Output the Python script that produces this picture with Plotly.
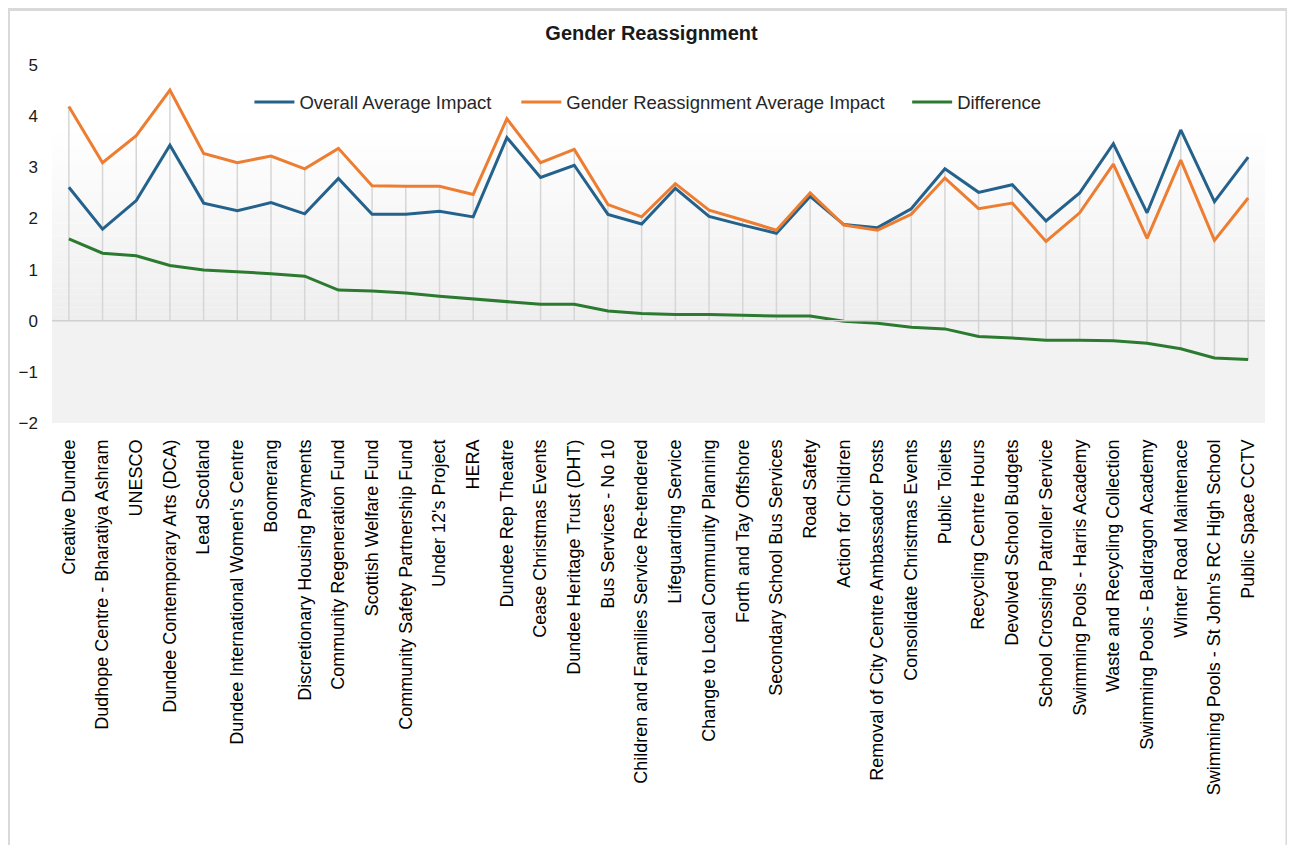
import plotly.graph_objects as go

categories = [
    "Creative Dundee", "Dudhope Centre - Bharatiya Ashram", "UNESCO",
    "Dundee Contemporary Arts (DCA)", "Lead Scotland",
    "Dundee International Women's Centre", "Boomerang",
    "Discretionary Housing Payments", "Community Regeneration Fund",
    "Scottish Welfare Fund", "Community Safety Partnership Fund",
    "Under 12's Project", "HERA", "Dundee Rep Theatre",
    "Cease Christmas Events", "Dundee Heritage Trust (DHT)",
    "Bus Services - No 10", "Children and Families Service Re-tendered",
    "Lifeguarding Service", "Change to Local Community Planning",
    "Forth and Tay Offshore", "Secondary School Bus Services",
    "Road Safety", "Action for Children",
    "Removal of City Centre Ambassador Posts",
    "Consolidate Christmas Events", "Public Toilets",
    "Recycling Centre Hours", "Devolved School Budgets",
    "School Crossing Patroller Service", "Swimming Pools - Harris Academy",
    "Waste and Recycling Collection", "Swimming Pools - Baldragon Academy",
    "Winter Road Maintenace", "Swimming Pools - St John's RC High School",
    "Public Space CCTV",
]

overall_avg = [2.61, 1.79, 2.35, 3.43, 2.30, 2.15, 2.31, 2.09, 2.78, 2.08,
               2.08, 2.14, 2.03, 3.58, 2.80, 3.04, 2.08, 1.89, 2.59, 2.04,
               1.87, 1.71, 2.43, 1.88, 1.82, 2.19, 2.97, 2.51, 2.66, 1.95,
               2.50, 3.46, 2.11, 3.73, 2.33, 3.20]

gender_avg = [4.19, 3.09, 3.62, 4.51, 3.27, 3.09, 3.22, 2.97, 3.37, 2.64,
              2.63, 2.63, 2.47, 3.95, 3.09, 3.35, 2.27, 2.03, 2.68, 2.16,
              1.97, 1.77, 2.50, 1.87, 1.77, 2.08, 2.79, 2.19, 2.30, 1.55,
              2.11, 3.06, 1.61, 3.14, 1.57, 2.40]

difference = [1.60, 1.32, 1.27, 1.08, 0.99, 0.96, 0.92, 0.87, 0.60, 0.58,
              0.54, 0.48, 0.43, 0.37, 0.32, 0.32, 0.19, 0.14, 0.12, 0.12,
              0.10, 0.09, 0.09, -0.01, -0.05, -0.13, -0.16, -0.31, -0.34,
              -0.38, -0.38, -0.39, -0.44, -0.55, -0.73, -0.76]

series_names = ["Overall Average Impact", "Gender Reassignment Average Impact", "Difference"]
series_colors = ["#24628c", "#ED7D31", "#2b7a30"]

y_ticks = [-2, -1, 0, 1, 2, 3, 4, 5]

FONT = "Liberation Sans, Arial, sans-serif"

# page body adds an 8px margin; figure coordinates = screen - 8
W, H = 1287, 837
L, R, T, B = 43.5, 30, 56.6, 422
pw, ph = W - L - R, H - T - B


def px_to_paper_x(px):
    return (px - L) / pw


def px_to_paper_y(py):
    return (H - B - py) / ph


fig = go.Figure()

# background: gradient above zero, flat grey below zero
n_bands = 30
top = 3.8
for i in range(n_bands):
    y0 = top * i / n_bands
    y1 = top * (i + 1) / n_bands
    t = i / (n_bands - 1)
    c = int(round(0xee + (0xff - 0xee) * t))
    fig.add_shape(type="rect", xref="paper", yref="y", x0=0, x1=1, y0=y0, y1=y1,
                  fillcolor=f"rgb({c},{c},{c})", line_width=0, layer="below")
fig.add_shape(type="rect", xref="paper", yref="y", x0=0, x1=1, y0=-2, y1=0,
              fillcolor="#f2f2f2", line_width=0, layer="below")

# drop lines from the extremes of each category to the axis
dx, dy = [], []
for i, cat in enumerate(categories):
    vals = [overall_avg[i], gender_avg[i], difference[i]]
    dx += [cat, cat, None]
    dy += [max(max(vals), 0), min(min(vals), 0), None]
fig.add_trace(go.Scatter(x=dx, y=dy, mode="lines", line=dict(color="#d6d6d6", width=1.5),
                         showlegend=False, hoverinfo="skip"))

# zero line
fig.add_shape(type="line", xref="paper", yref="y", x0=0, x1=1, y0=0, y1=0,
              line=dict(color="#d0d0d0", width=1.5))

legend_ids = ["legend", "legend2", "legend3"]
legend_x = [241, 508, 899]
for name, vals, col, lid in zip(series_names, [overall_avg, gender_avg, difference],
                                series_colors, legend_ids):
    fig.add_trace(go.Scatter(x=categories, y=vals, mode="lines", name=name, legend=lid,
                             line=dict(color=col, width=3)))

# outer frame
fig.add_shape(type="rect", xref="paper", yref="paper",
              x0=px_to_paper_x(0), x1=px_to_paper_x(1279),
              y0=px_to_paper_y(860), y1=px_to_paper_y(1),
              line=dict(color="#d9d9d9", width=3), fillcolor="rgba(0,0,0,0)", layer="below")

legend_common = dict(orientation="h", xanchor="left", yanchor="middle",
                     y=px_to_paper_y(94),
                     font=dict(family=FONT, size=18.5, color="#262626"),
                     bgcolor="rgba(0,0,0,0)", itemwidth=40)

fig.update_layout(
    width=W, height=H,
    margin=dict(l=L, r=R, t=T, b=B, pad=0),
    paper_bgcolor="white", plot_bgcolor="white",
    title=dict(text="<b>Gender Reassignment</b>", x=0.5, xanchor="center",
               y=1 - 25 / H, yanchor="middle",
               font=dict(family=FONT, size=20, color="#1a1a1a")),
    font=dict(family=FONT, size=16, color="#000000"),
    legend=dict(x=px_to_paper_x(legend_x[0]), **legend_common),
    legend2=dict(x=px_to_paper_x(legend_x[1]), **legend_common),
    legend3=dict(x=px_to_paper_x(legend_x[2]), **legend_common),
    xaxis=dict(type="category", categoryorder="array", categoryarray=categories,
               range=[-0.5, len(categories) - 0.5], tickangle=-90,
               showgrid=False, showline=False, zeroline=False, ticks="",
               tickfont=dict(family=FONT, size=18, color="#000000"),
               ticklabelstandoff=12),
    yaxis=dict(range=[-2, 5], tickvals=y_ticks, showgrid=False, zeroline=False,
               showline=False, ticks="",
               tickfont=dict(family=FONT, size=17, color="#1a1a1a"),
               ticklabelstandoff=13),
    hovermode=False,
)

fig.write_html("out.html")
